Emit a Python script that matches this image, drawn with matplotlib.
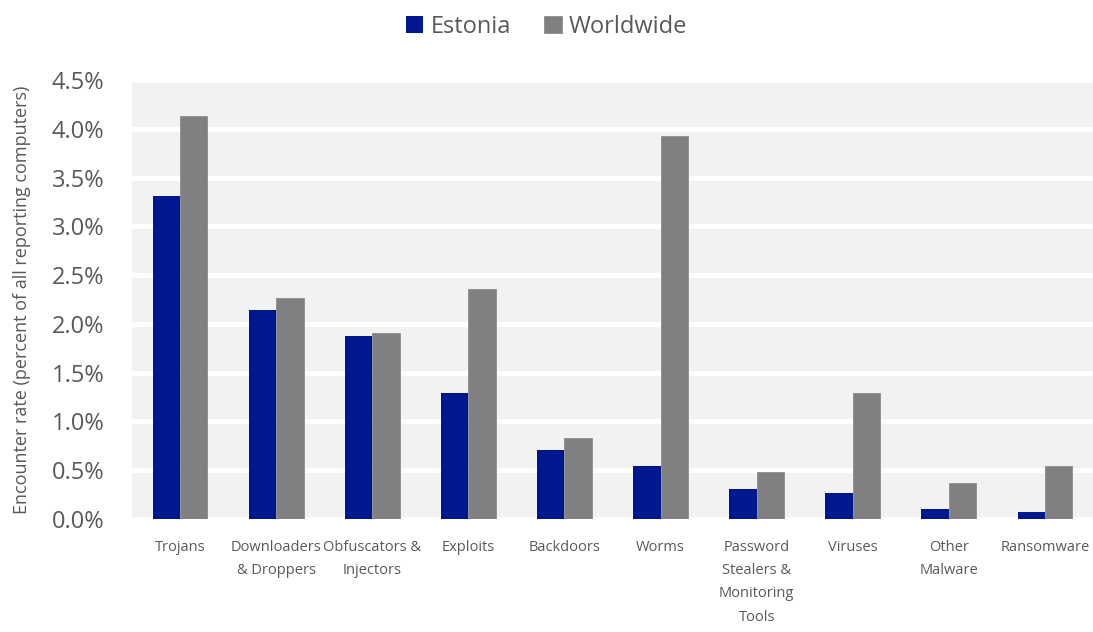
import matplotlib
matplotlib.use("Agg")
import matplotlib.pyplot as plt
import numpy as np

# Données (taux de rencontre, en %)
categories = ["Trojans", "Downloaders\n& Droppers", "Obfuscators &\nInjectors", "Exploits",
              "Backdoors", "Worms", "Password\nStealers &\nMonitoring\nTools", "Viruses",
              "Other\nMalware", "Ransomware"]
estonia = [3.31, 2.14, 1.88, 1.29, 0.71, 0.54, 0.31, 0.27, 0.10, 0.07]
worldwide = [4.13, 2.27, 1.91, 2.36, 0.83, 3.93, 0.48, 1.29, 0.37, 0.54]
yticks = [0.0, 0.5, 1.0, 1.5, 2.0, 2.5, 3.0, 3.5, 4.0, 4.5]

TXT = "#595959"
plt.rcParams['font.family'] = ['Open Sans', 'DejaVu Sans']

fig = plt.figure(figsize=(10.93, 6.32), dpi=100)
ax = fig.add_axes([132 / 1093, 1 - 519 / 632, 961 / 1093, 439 / 632])
ax.set_facecolor("#f2f2f2")

x = np.arange(len(categories))
w = 0.285
ax.bar(x - w / 2, estonia, w, color="#00188f", label="Estonia", zorder=3)
ax.bar(x + w / 2, worldwide, w, color="#808080", edgecolor="#8c8c8c", linewidth=0.6,
       label="Worldwide", zorder=3)

ax.set_xlim(-0.5, len(categories) - 0.5)
ax.set_ylim(0, 4.5)
ax.set_yticks(yticks)
ax.set_yticklabels([f"{v:.1f}%" for v in yticks], fontsize=17, color=TXT)
ax.yaxis.grid(True, color="white", linewidth=3.5, zorder=1)
ax.set_axisbelow(True)
ax.set_xticks(x)
ax.set_xticklabels(categories, fontsize=10.5, color=TXT, linespacing=1.75,
                   family=['Liberation Sans Narrow', 'Open Sans', 'DejaVu Sans'])
ax.tick_params(axis="both", length=0)
ax.tick_params(axis="y", pad=20)
ax.tick_params(axis="x", pad=15)
for s in ax.spines.values():
    s.set_visible(False)

ax.set_ylabel("Encounter rate (percent of all reporting computers)", fontsize=13,
              color=TXT)
ax.yaxis.set_label_coords(-0.105, 0.5)

fig.legend(loc="upper center", bbox_to_anchor=(0.5, 1.01), ncol=2, frameon=False,
           fontsize=17, handlelength=0.75, handleheight=0.75, handletextpad=0.3,
           columnspacing=1.4, labelcolor=TXT)

fig.savefig("out.png", dpi=100)
